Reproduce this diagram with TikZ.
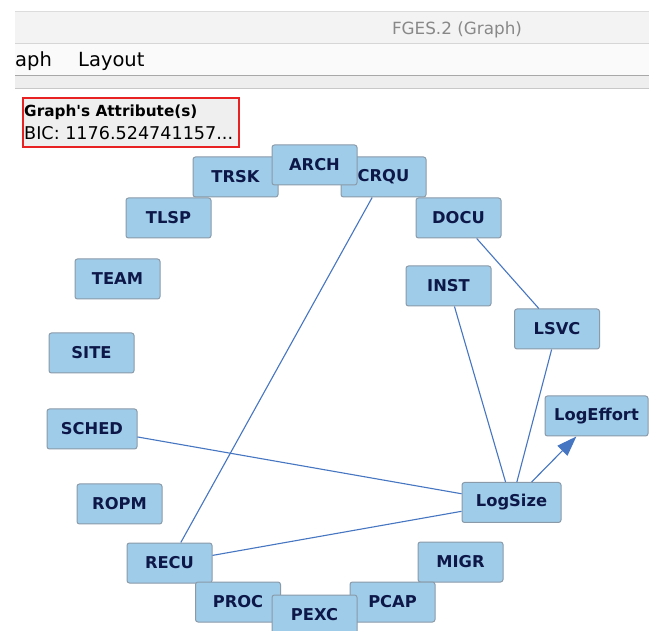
\documentclass[tikz,border=0pt]{standalone}
\usepackage{fontspec}
\setmainfont{DejaVu Sans}[Ligatures=TeXOff]
\usetikzlibrary{arrows.meta}

\definecolor{nodefill}{HTML}{9FCCE9}
\definecolor{nodeborder}{HTML}{8A9AA8}
\definecolor{nodetext}{HTML}{0D1848}
\definecolor{edgeblue}{HTML}{4676C2}
\definecolor{barA}{HTML}{F3F3F3}
\definecolor{barB}{HTML}{FAFAFA}
\definecolor{barC}{HTML}{EEEEEE}
\definecolor{attrfill}{HTML}{EFEFEF}
\definecolor{attrred}{HTML}{E82222}

\tikzset{
  var/.style={draw=nodeborder, fill=nodefill, rounded corners=2.5pt,
    minimum width=85pt, minimum height=40pt, inner sep=0pt, line width=1pt,
    text=nodetext, font=\fontsize{16.3}{19}\selectfont\bfseries},
  edge/.style={draw=edgeblue, line width=1.1pt},
  sepline/.style={line width=1pt},
}

\begin{document}
\begin{tikzpicture}[x=1pt,y=-1pt]
\clip (0,0) rectangle (649,631);
\fill[white] (0,0) rectangle (649,631);

% window title bar, menu bar and toolbar strip
\fill[barA] (15,11) rectangle (649,43);
\draw[sepline, color={rgb,255:red,220;green,220;blue,220}] (15,11.5) -- (649,11.5);
\draw[sepline, color={rgb,255:red,214;green,214;blue,214}] (15,43.5) -- (649,43.5);
\fill[barB] (15,44) rectangle (649,75);
\draw[line width=1.6pt, color={rgb,255:red,168;green,168;blue,168}] (15,75.5) -- (649,75.5);
\fill[barC] (15,76.5) rectangle (649,88);
\draw[sepline, color={rgb,255:red,200;green,200;blue,200}] (15,88.5) -- (649,88.5);

\node[text={rgb,255:red,136;green,136;blue,136}, font=\fontsize{16.8}{19}\selectfont, anchor=center] (title) at (457,30) {FGES.2 (Graph)};
\node[font=\fontsize{19.5}{22}\selectfont, anchor=base west, inner sep=0pt] (menuA) at (15,67) {aph};
\node[font=\fontsize{19.5}{22}\selectfont, anchor=base west, inner sep=0pt] (menuB) at (78,67) {Layout};

% graph attribute box
\node[draw=attrred, fill=attrfill, line width=1.1pt, minimum width=216pt, minimum height=49pt, inner sep=0pt] (attr) at (131,122.5) {};
\node[anchor=base west, inner sep=0pt, font=\fontsize{15.3}{18}\selectfont\bfseries] (attrhead) at (24,117) {Graph's Attribute(s)};
\node[anchor=base west, inner sep=0pt, font=\fontsize{17.6}{20}\selectfont] (attrbic) at (24,140) {BIC: 1176.524741157...};

% variables
\node[var] (TRSK) at (235.5,177) {TRSK};
\node[var] (CRQU) at (383.5,177) {CRQU};
\node[var] (ARCH) at (314.5,165) {ARCH};
\node[var] (TLSP) at (168.5,218) {TLSP};
\node[var] (DOCU) at (458.5,218) {DOCU};
\node[var] (TEAM) at (117.5,279) {TEAM};
\node[var] (INST) at (448.5,286) {INST};
\node[var] (LSVC) at (557,329) {LSVC};
\node[var] (SITE) at (91.5,353) {SITE};
\node[var, minimum width=90pt] (SCHED) at (92,429) {SCHED};
\node[var, minimum width=103pt] (LogEffort) at (596.5,416) {LogEffort};
\node[var] (ROPM) at (119.5,504) {ROPM};
\node[var, minimum width=99pt] (LogSize) at (511.5,502.5) {LogSize};
\node[var] (MIGR) at (460.5,562) {MIGR};
\node[var] (RECU) at (169.5,563) {RECU};
\node[var] (PROC) at (238,602) {PROC};
\node[var] (PCAP) at (392.5,602) {PCAP};
\node[var] (PEXC) at (314.5,615) {PEXC};

% edges
\draw[edge] (CRQU) -- (RECU);
\draw[edge] (DOCU) -- (LSVC);
\draw[edge] (INST) -- (LogSize);
\draw[edge] (LSVC) -- (LogSize);
\draw[edge] (SCHED) -- (LogSize);
\draw[edge] (RECU) -- (LogSize);
\draw[edge, -{Triangle[length=20pt,width=14pt]}, fill=edgeblue] (LogSize) -- (LogEffort);
\end{tikzpicture}
\end{document}
